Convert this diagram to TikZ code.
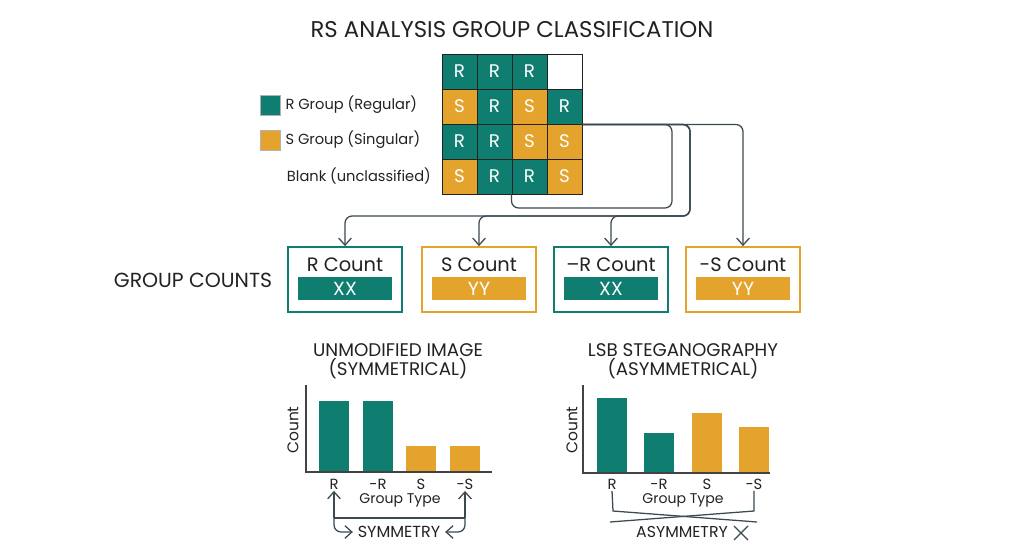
\documentclass[tikz,border=0pt]{standalone}
\usepackage{fontspec}
\setmainfont{Poppins}
\usepackage{xcolor}
\usetikzlibrary{arrows.meta,positioning}
\definecolor{rteal}{HTML}{0F7D70}
\definecolor{sgold}{HTML}{E3A32C}
\definecolor{wirec}{HTML}{3B4A50}
\definecolor{ink}{HTML}{222222}

\begin{document}
\begin{tikzpicture}[
		x=0.025cm, y=-0.025cm,
		every node/.style={font=\fontsize{10}{12}\selectfont, text=ink},
		cell/.style={draw=ink, line width=0.7pt, minimum size=0.875cm, inner sep=0pt, font=\fontsize{13}{15}\selectfont, text=white},
		rcell/.style={cell, fill=rteal},
		scell/.style={cell, fill=sgold},
		blankcell/.style={cell, fill=white},
		legsq/.style={draw=gray!60, minimum size=0.5cm, inner sep=0pt},
		wire/.style={draw=wirec, line width=0.9pt, rounded corners=5pt},
		flow/.style={wire, -{Straight Barb[length=5pt,width=9pt]}},
		countbox/.style={draw, line width=1.3pt, fill=white, minimum width=2.85cm, minimum height=1.625cm},
		countlbl/.style={font=\fontsize{13.8}{15}\selectfont},
		valbar/.style={minimum width=2.35cm, minimum height=0.575cm, inner sep=0pt, text=white, font=\fontsize{13.5}{15}\selectfont},
		axis/.style={draw=ink!85, line width=1pt},
		tick/.style={inner sep=1pt, font=\fontsize{10.5}{12}\selectfont},
		ylbl/.style={rotate=90, font=\fontsize{11}{12}\selectfont},
		charttitle/.style={align=center, font=\fontsize{13}{13.5}\selectfont}
	]
	\useasboundingbox (0,0) rectangle (1024,559);

	\node[font=\fontsize{16.2}{18}\selectfont] (title) at (512,30) {RS ANALYSIS GROUP CLASSIFICATION};

	% classification grid
	\foreach \r/\c/\k/\t in {1/1/rcell/R, 1/2/rcell/R, 1/3/rcell/R, 1/4/blankcell/{},
			2/1/scell/S, 2/2/rcell/R, 2/3/scell/S, 2/4/rcell/R,
			3/1/rcell/R, 3/2/rcell/R, 3/3/scell/S, 3/4/scell/S,
			4/1/scell/S, 4/2/rcell/R, 4/3/rcell/R, 4/4/scell/S}
	\node[\k] (c\r\c) at ({424.5+35*\c},{36.5+35*\r}) {\t};

	% legend
	\node[legsq, fill=rteal] (kR) at (270,105) {};
	\node[right=0.2pt of kR, font=\fontsize{10.4}{12}\selectfont] (kRt) {R Group (Regular)};
	\node[legsq, fill=sgold] (kS) at (270,140) {};
	\node[right=0.2pt of kS, font=\fontsize{10.4}{12}\selectfont] (kSt) {S Group (Singular)};
	\node[anchor=west, font=\fontsize{10.4}{12}\selectfont] (kB) at (282,176) {Blank (unclassified)};

	% group counts
	\node[font=\fontsize{14.5}{16}\selectfont] (gc) at (193,280) {GROUP COUNTS};

	\node[countbox, draw=rteal] (rc) at (345,279.5) {};
	\node[countlbl] (rcl) at (345,265) {R Count};
	\node[valbar, fill=rteal] (rcv) at (345,288.5) {XX};

	\node[countbox, draw=sgold] (sc) at (479,279.5) {};
	\node[countlbl] (scl) at (479,265) {S Count};
	\node[valbar, fill=sgold] (scv) at (479,288.5) {YY};

	\node[countbox, draw=rteal] (nrc) at (611,279.5) {};
	\node[countlbl] (nrcl) at (611,265) {–R Count};
	\node[valbar, fill=rteal] (nrcv) at (611,288.5) {XX};

	\node[countbox, draw=sgold] (nsc) at (743,279.5) {};
	\node[countlbl] (nscl) at (743,265) {-S Count};
	\node[valbar, fill=sgold] (nscv) at (743,288.5) {YY};

	% connectors
	\coordinate (loopR) at (672,208);
	\coordinate (busR) at (690,216);
	\draw[wire] (c24.south east) -| (loopR) -| (c43.south west);
	\draw[flow] (c24.south east) -| (busR) -| (rc.north);
	\draw[flow] (c24.south east) -| (busR) -| (sc.north);
	\draw[flow] (c24.south east) -| (busR) -| (nrc.north);
	\draw[flow] (c24.south east) -| (nsc.north);

	% unmodified image chart
	\node[charttitle] (ut) at (398,361) {UNMODIFIED IMAGE\\(SYMMETRICAL)};
	\fill[rteal] (319,401) rectangle (349,472);
	\fill[rteal] (363,401) rectangle (393,472);
	\fill[sgold] (406,446) rectangle (436,472);
	\fill[sgold] (450,446) rectangle (480,472);
	\draw[axis] (306,385) -- (306,472) -- (492,472);
	\node[ylbl] (uy) at (293,430) {Count};
	\node[tick] (uR) at (334,484) {R};
	\node[tick] (unR) at (378,484) {-R};
	\node[tick] (uS) at (421,484) {S};
	\node[tick] (unS) at (465,484) {-S};
	\node (ux) at (400,500) {Group Type};

	\coordinate (symL) at (334,518);
	\coordinate (symR) at (465,518);
	\node[font=\fontsize{11.4}{13}\selectfont] (symtxt) at (399,532) {SYMMETRY};
	\draw[flow, rounded corners=0pt] (symL) -- (uR.south);
	\draw[flow, rounded corners=0pt] (symR) -- (unS.south);
	\draw[wire] (symL) -- (symR);
	\draw[flow] (symL) |- (symtxt.west);
	\draw[flow] (symR) |- (symtxt.east);

	% lsb steganography chart
	\node[charttitle] (lt) at (683,361) {LSB STEGANOGRAPHY\\(ASYMMETRICAL)};
	\fill[rteal] (597,398) rectangle (627,473);
	\fill[rteal] (644,433) rectangle (674,473);
	\fill[sgold] (692,413) rectangle (722,473);
	\fill[sgold] (739,427) rectangle (769,473);
	\draw[axis] (583,385) -- (583,473) -- (770,473);
	\node[ylbl] (ly) at (572,430) {Count};
	\node[tick] (vR) at (612,484) {R};
	\node[tick] (vnR) at (659,484) {-R};
	\node[tick] (vS) at (707,484) {S};
	\node[tick] (vnS) at (754,484) {-S};
	\node (vx) at (683,500) {Group Type};

	\draw[wire, rounded corners=0pt] (vR.south) -- (613,511) -- (757,522);
	\draw[wire, rounded corners=0pt] (vnS.south) -- (754,511) -- (610,522);
	\node[font=\fontsize{11.2}{13}\selectfont] (asym) at (682,532) {ASYMMETRY};
	\draw[wire] (734,526) -- (748,540) (734,540) -- (748,526);
\end{tikzpicture}
\end{document}
